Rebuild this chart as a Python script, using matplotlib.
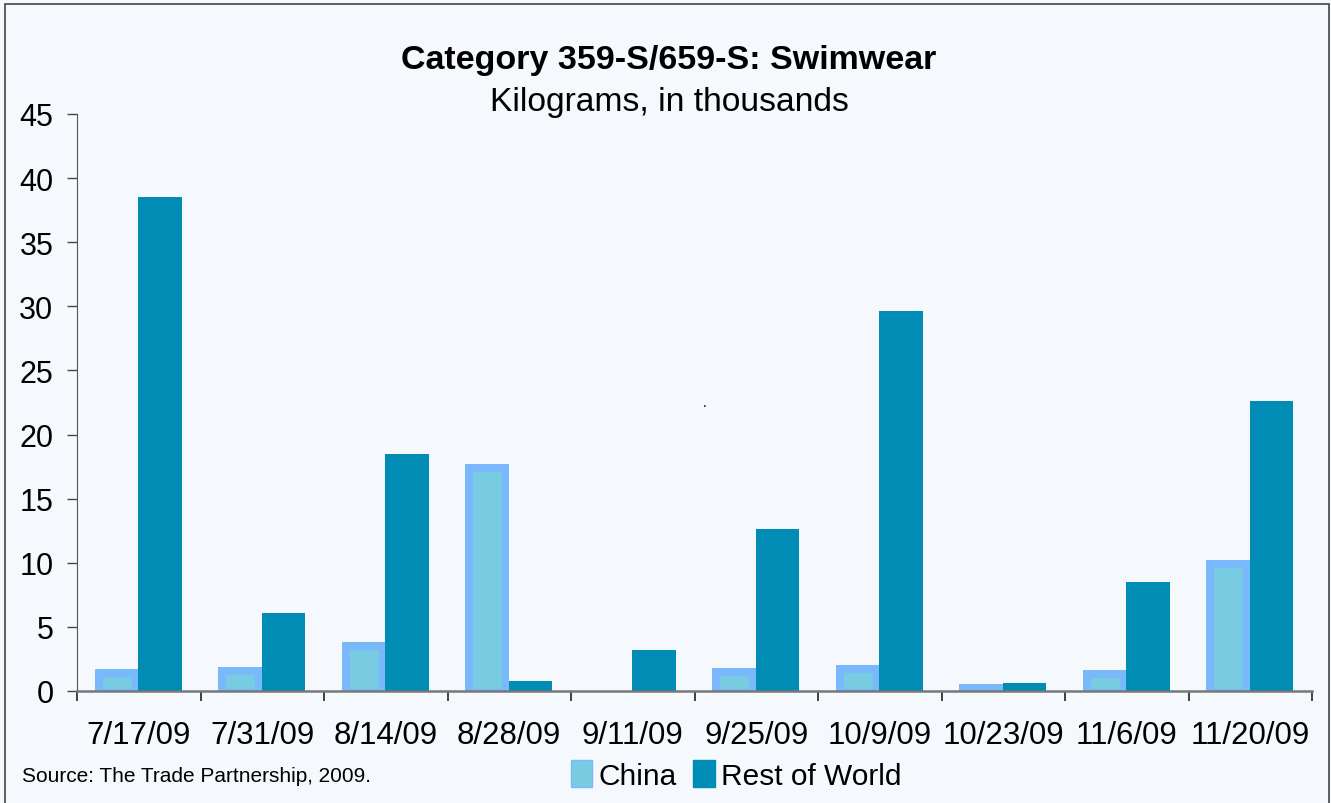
import matplotlib
matplotlib.use("Agg")
import matplotlib.pyplot as plt
import numpy as np
from matplotlib.patches import Rectangle, Patch
from matplotlib.transforms import TransformedPatchPath

plt.rcParams['font.family'] = ['Liberation Sans', 'DejaVu Sans']

dates = ["7/17/09", "7/31/09", "8/14/09", "8/28/09", "9/11/09",
         "9/25/09", "10/9/09", "10/23/09", "11/6/09", "11/20/09"]
china = [1.7, 1.9, 3.8, 17.7, 0.0, 1.8, 2.0, 0.55, 1.65, 10.2]
row = [38.5, 6.1, 18.5, 0.8, 3.2, 12.6, 29.6, 0.65, 8.5, 22.6]
yticks = [0, 5, 10, 15, 20, 25, 30, 35, 40, 45]

bg = "#f5f9fe"
fig = plt.figure(figsize=(13.31, 8.04), dpi=100, facecolor=bg)
ax = fig.add_axes([77/1331, 112/804, (1312-77)/1331, (692-115)/804])
ax.set_facecolor(bg)

x = np.arange(len(dates))
w = 0.355
base = -0.4
cb = ax.bar(x - w/2, np.array(china) - base, bottom=base, width=w, facecolor="#78cce2",
            edgecolor="#7ab8fc", linewidth=11, zorder=2)
for p, v in zip(cb, china):
    p.set_clip_path(TransformedPatchPath(p))
    if v == 0:
        p.set_visible(False)
ax.bar(x + w/2 - 0.005, row, width=w, color="#008cb5", zorder=2)

ax.set_xlim(-0.5, len(dates) - 0.5)
ax.set_ylim(0, 45)
ax.set_yticks(yticks)
ax.set_yticklabels([str(v) for v in yticks], fontsize=22)
ax.set_xticks(x)
ax.set_xticklabels(dates, fontsize=22.5)
ax.set_xticks(np.arange(-0.5, len(dates), 1.0), minor=True)
ax.tick_params(axis='x', which='major', length=0, pad=21)
ax.tick_params(axis='x', which='minor', length=7, width=1.2, color="#222222", direction='out')
ax.tick_params(axis='y', length=7, width=1, color="#444444", pad=10)
for s in ['top', 'right']:
    ax.spines[s].set_visible(False)
ax.spines['left'].set_color("#555555")
ax.spines['bottom'].set_color("#777777")
ax.spines['bottom'].set_linewidth(1.8)
ax.spines['bottom'].set_zorder(3)

fig.text(669/1331, 1 - 61/804, "Category 359-S/659-S: Swimwear", ha='center', va='center',
         fontsize=24.5, fontweight='bold')
fig.text(669/1331, 1 - 103/804, "Kilograms, in thousands", ha='center', va='center', fontsize=24.2)
fig.text(705/1331, 1 - 403/804, ".", ha='center', va='center', fontsize=10)
fig.text(22/1331, 1 - 777/804, "Source: The Trade Partnership, 2009.", ha='left', va='center', fontsize=15)

handles = [Patch(facecolor="#78cce2", edgecolor="#7ab8fc", linewidth=1),
           Patch(facecolor="#008cb5", edgecolor="#008cb5")]
fig.legend(handles, ["China", "Rest of World"], loc='center', bbox_to_anchor=(736/1331, 1 - 776/804),
           ncol=2, frameon=False, fontsize=21.5, handlelength=0.72, handleheight=1.0,
           handletextpad=0.2, columnspacing=0.55)

fig.patches.append(Rectangle((5/1331, -0.01), (1329-5)/1331, 1 - 5/804 + 0.01, transform=fig.transFigure,
                             fill=False, edgecolor="#444444", linewidth=1.2))

fig.savefig("out.png", dpi=100, facecolor=bg)
